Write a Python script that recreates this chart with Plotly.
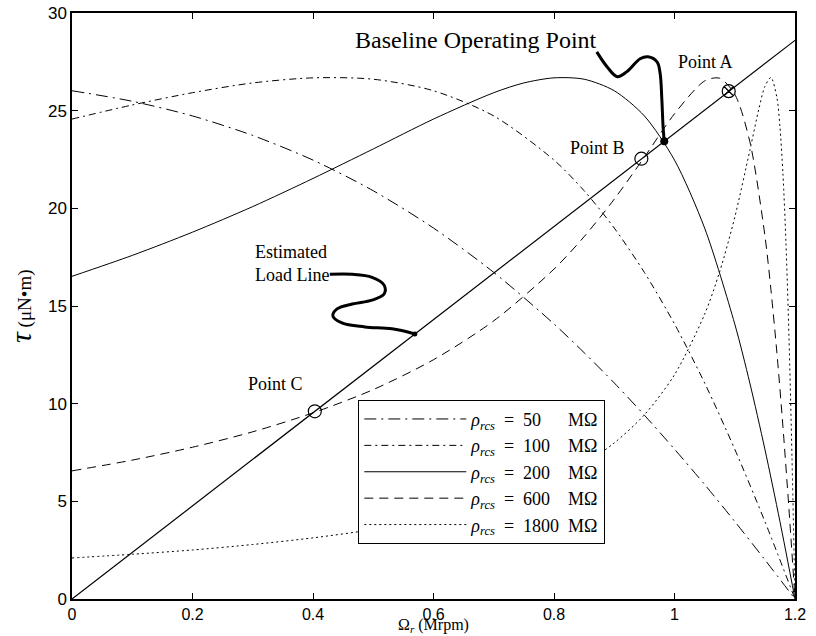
import plotly.graph_objects as go

# ---------------- data ----------------
omega_common = [0, 0.1, 0.2, 0.3, 0.4, 0.5, 0.6, 0.7, 0.8, 0.85, 0.9, 0.95,
                1.0, 1.05, 1.1, 1.15, 1.2]
tau_50 = [26.02, 25.48, 24.73, 23.73, 22.47, 20.90, 18.99, 16.72, 14.08, 12.61,
          11.06, 9.41, 7.67, 5.86, 3.97, 2.01, 0]
tau_100 = [24.57, 25.29, 25.92, 26.42, 26.68, 26.61, 26.02, 24.73, 22.47, 20.90,
           18.99, 16.72, 14.08, 11.06, 7.67, 3.97, 0]

omega_200 = [0, 0.1, 0.2, 0.3, 0.4, 0.5, 0.6, 0.7, 0.75, 0.8, 0.85, 0.9, 0.95,
             1.0, 1.05, 1.1, 1.125, 1.15, 1.175, 1.2]
tau_200 = [16.52, 17.59, 18.78, 20.09, 21.53, 23.04, 24.57, 25.92, 26.42, 26.68,
           26.61, 26.02, 24.73, 22.47, 18.99, 14.08, 11.06, 7.67, 3.97, 0]

omega_600 = [0, 0.1, 0.2, 0.3, 0.4, 0.5, 0.6, 0.7, 0.8, 0.85, 0.9, 0.95, 1.0,
             1.05, 1.075, 1.1, 1.125, 1.15, 1.16, 1.17, 1.18, 1.19, 1.2]
tau_600 = [6.56, 7.11, 7.77, 8.56, 9.53, 10.72, 12.25, 14.24, 16.89, 18.55,
           20.47, 22.62, 24.84, 26.52, 26.66, 25.84, 23.42, 18.61, 15.85, 12.59,
           8.82, 4.59, 0]

omega_1800 = [0, 0.1, 0.2, 0.3, 0.4, 0.5, 0.6, 0.7, 0.8, 0.85, 0.9, 0.95, 1.0,
              1.05, 1.075, 1.1, 1.125, 1.14, 1.15, 1.16, 1.17, 1.175, 1.18,
              1.185, 1.19, 1.195, 1.2]
tau_1800 = [2.10, 2.29, 2.51, 2.79, 3.13, 3.56, 4.14, 4.94, 6.11, 6.92, 7.99,
            9.43, 11.48, 14.58, 16.76, 19.54, 22.96, 25.08, 26.24, 26.70, 25.66,
            24.17, 21.77, 18.23, 13.40, 7.25, 0]

load_omega = [0, 1.2]
load_tau = [0, 28.6]

point_omega = [1.09, 0.945, 0.403]
point_tau = [26.0, 22.54, 9.61]
point_labels = ["Point A", "Point B", "Point C"]

baseline_omega = [0.983]
baseline_tau = [23.44]
load_dot_omega = [0.569]
load_dot_tau = [13.57]

# callout squiggles
squig_load_omega = [0.428, 0.465, 0.498, 0.518, 0.518, 0.498, 0.465, 0.440,
                    0.433, 0.448, 0.486, 0.531, 0.569]
squig_load_tau = [16.62, 16.62, 16.47, 16.07, 15.61, 15.30, 15.10, 14.85,
                  14.49, 14.13, 13.93, 13.83, 13.57]
squig_base_omega = [0.871, 0.888, 0.905, 0.921, 0.943, 0.956, 0.971, 0.976,
                    0.979, 0.981, 0.983]
squig_base_tau = [28.01, 27.25, 26.74, 27.0, 27.66, 27.76, 27.50, 26.94,
                  25.57, 24.20, 23.44]

x_ticks = [0, 0.2, 0.4, 0.6, 0.8, 1.0, 1.2]
x_tick_text = ["0", "0.2", "0.4", "0.6", "0.8", "1", "1.2"]
y_ticks = [0, 5, 10, 15, 20, 25, 30]

NB = "\u00a0"
rho = "<i>ρ</i><sub><i>rcs</i></sub>" + NB + " = " + NB
legend_names = [
    rho + "50" + NB * 6 + "MΩ",
    rho + "100" + NB * 4 + "MΩ",
    rho + "200" + NB * 4 + "MΩ",
    rho + "600" + NB * 4 + "MΩ",
    rho + "1800" + NB * 2 + "MΩ",
]

SERIF = "Liberation Serif, Times New Roman, serif"
SANS = "Liberation Sans, Arial, Helvetica, sans-serif"

fig = go.Figure()

curve_specs = [
    (omega_common, tau_50, "12px,5px,2px,5px"),
    (omega_common, tau_100, "7px,4px,2px,4px"),
    (omega_200, tau_200, "solid"),
    (omega_600, tau_600, "9px,6px"),
    (omega_1800, tau_1800, "2px,3px"),
]
for (xs, ys, dash), name in zip(curve_specs, legend_names):
    fig.add_trace(go.Scatter(
        x=xs, y=ys, mode="lines", name=name,
        line=dict(color="black", width=1, dash=dash, shape="spline", smoothing=0.8),
    ))

# load line
fig.add_trace(go.Scatter(x=load_omega, y=load_tau, mode="lines", showlegend=False,
                         line=dict(color="black", width=1.2)))

# callouts
fig.add_trace(go.Scatter(x=squig_load_omega, y=squig_load_tau, mode="lines",
                         showlegend=False,
                         line=dict(color="black", width=3, shape="spline", smoothing=1)))
fig.add_trace(go.Scatter(x=squig_base_omega, y=squig_base_tau, mode="lines",
                         showlegend=False,
                         line=dict(color="black", width=3, shape="spline", smoothing=1)))

# operating points
fig.add_trace(go.Scatter(
    x=point_omega, y=point_tau, mode="markers", showlegend=False,
    marker=dict(symbol=["circle-x-open", "circle-open", "circle-open"], size=13,
                color="black", line=dict(width=1.2, color="black")),
))
fig.add_trace(go.Scatter(x=baseline_omega, y=baseline_tau, mode="markers",
                         showlegend=False,
                         marker=dict(symbol="circle", size=8, color="black")))
fig.add_trace(go.Scatter(x=load_dot_omega, y=load_dot_tau, mode="markers",
                         showlegend=False,
                         marker=dict(symbol="circle", size=5, color="black")))

annotations = [
    dict(x=0.67, y=28.6, text="Baseline Operating Point", font=dict(size=24)),
    dict(x=1.051, y=27.5, text=point_labels[0], font=dict(size=18)),
    dict(x=0.873, y=23.1, text=point_labels[1], font=dict(size=18)),
    dict(x=0.337, y=11.0, text=point_labels[2], font=dict(size=18)),
    dict(x=0.300, y=17.2, text="Estimated<br>Load Line", align="left",
         xanchor="left", font=dict(size=18)),
]
for a in annotations:
    a.setdefault("xanchor", "center")
    a.update(xref="x", yref="y", showarrow=False, yanchor="middle")
    a["font"].update(family=SERIF, color="black")

# x-axis title, placed just below the tick labels
annotations.append(dict(
    x=0.5, y=0, xref="paper", yref="paper", showarrow=False,
    text="Ω<sub><i>r</i></sub> (Mrpm)", xanchor="center", yanchor="top",
    yshift=-15, font=dict(family=SERIF, size=16, color="black")))
annotations.append(dict(
    x=-0.072, y=0.5, xref="paper", yref="paper", showarrow=False, textangle=-90,
    text="<span style='font-size:30px'><i>τ</i></span> (μN•m)",
    xanchor="center", yanchor="middle",
    font=dict(family=SERIF, size=19, color="black")))

axis_common = dict(
    showline=True, linecolor="black", linewidth=1.5, mirror="ticks",
    ticks="inside", ticklen=6, tickwidth=1.2, tickcolor="black",
    showgrid=False, zeroline=False,
)

fig.update_layout(
    width=816, height=636,
    margin=dict(l=72, r=21, t=13, b=37, autoexpand=False),
    paper_bgcolor="white", plot_bgcolor="white",
    xaxis=dict(range=[0, 1.2], tickvals=x_ticks, ticktext=x_tick_text,
               tickfont=dict(family=SANS, size=16, color="black"), **axis_common),
    yaxis=dict(range=[0, 30], tickvals=y_ticks,
               tickfont=dict(family=SANS, size=17, color="black"), **axis_common),
    legend=dict(x=0.396, y=0.34, xanchor="left", yanchor="top",
                bgcolor="white", bordercolor="black", borderwidth=1,
                font=dict(family=SERIF, size=18, color="black"),
                itemwidth=102, tracegroupgap=0),
    annotations=annotations,
    showlegend=True,
)

fig.write_html("out.html")
